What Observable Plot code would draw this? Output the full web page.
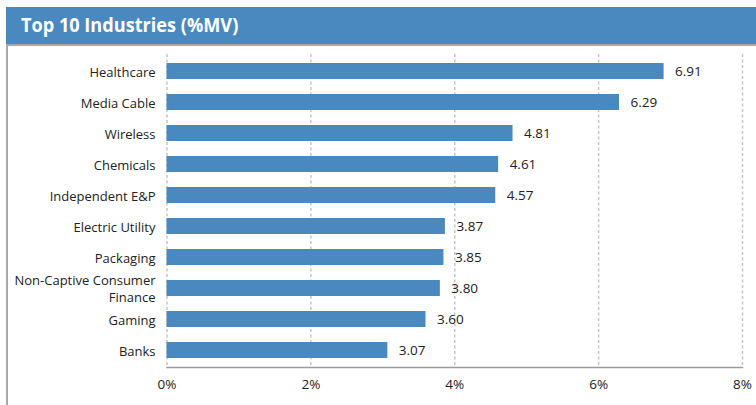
<!DOCTYPE html>
<html><head><meta charset="utf-8">
<script src="https://cdn.jsdelivr.net/npm/d3@7"></script>
<script src="https://cdn.jsdelivr.net/npm/@observablehq/plot@0.6"></script>
<style>
body{margin:0;background:#fff;width:756px;height:405px;position:relative;overflow:hidden;font-family:"Open Sans",sans-serif}
#hdr{position:absolute;left:6px;top:7px;width:750px;height:37px;background:#4a89bf;border-bottom:2px solid #a8a8a8;}
#hdr span{position:absolute;left:15px;top:-1px;line-height:37px;color:#fff;font-weight:bold;font-size:19.5px;font-family:"Open Sans",sans-serif;transform:scaleX(0.93);transform-origin:left center;white-space:nowrap;}
#lb{position:absolute;left:6px;top:46px;bottom:0;border-left:2px solid #a8a8a8;}
#chart{position:absolute;left:0;top:46px;}
</style></head>
<body>
<div id="hdr"><span>Top 10 Industries (%MV)</span></div>
<div id="lb"></div>
<div id="chart"></div>
<script>
const industries = ["Healthcare","Media Cable","Wireless","Chemicals","Independent E&P","Electric Utility","Packaging","Non-Captive Consumer Finance","Gaming","Banks"];
const weights = [6.91, 6.29, 4.81, 4.61, 4.57, 3.87, 3.85, 3.80, 3.60, 3.07];
const xTicks = [0, 2, 4, 6, 8];
const xTickLabels = ["0%", "2%", "4%", "6%", "8%"];

const data = industries.map((name, i) => ({industry: name, value: weights[i]}));

const chart = Plot.plot({
  width: 756,
  height: 359,
  marginLeft: 166.5,
  marginRight: 14,
  marginTop: 8,
  marginBottom: 38,
  style: {fontFamily: "'Open Sans', sans-serif", fontSize: "13px", color: "#222", background: "transparent"},
  x: {domain: [0, 8]},
  y: {domain: industries, paddingInner: 0.48, paddingOuter: 0.185},
  marks: [
    Plot.ruleX(xTicks, {stroke: "#c6c6c6", strokeWidth: 1.5, strokeDasharray: "3,2.5"}),
    Plot.barX(data, {x: "value", y: "industry", fill: "#4a89bf"}),
    Plot.frame({anchor: "bottom", stroke: "#9a9a9a", strokeWidth: 1.5}),
    Plot.text(data, {x: "value", y: "industry", text: d => d.value.toFixed(2), dx: 11, textAnchor: "start", fill: "#222", fontSize: 13.5}),
    Plot.axisY({tickSize: 0, tickPadding: 11.5, label: null, fontSize: 13, lineHeight: 1.3,
      tickFormat: d => d.replace(" Finance", "\nFinance")}),
    Plot.axisX(xTicks, {tickSize: 0, tickPadding: 12, label: null, fontSize: 13.5,
      tickFormat: d => xTickLabels[xTicks.indexOf(d)]})
  ]
});
document.getElementById("chart").appendChild(chart);
</script>
</body></html>
